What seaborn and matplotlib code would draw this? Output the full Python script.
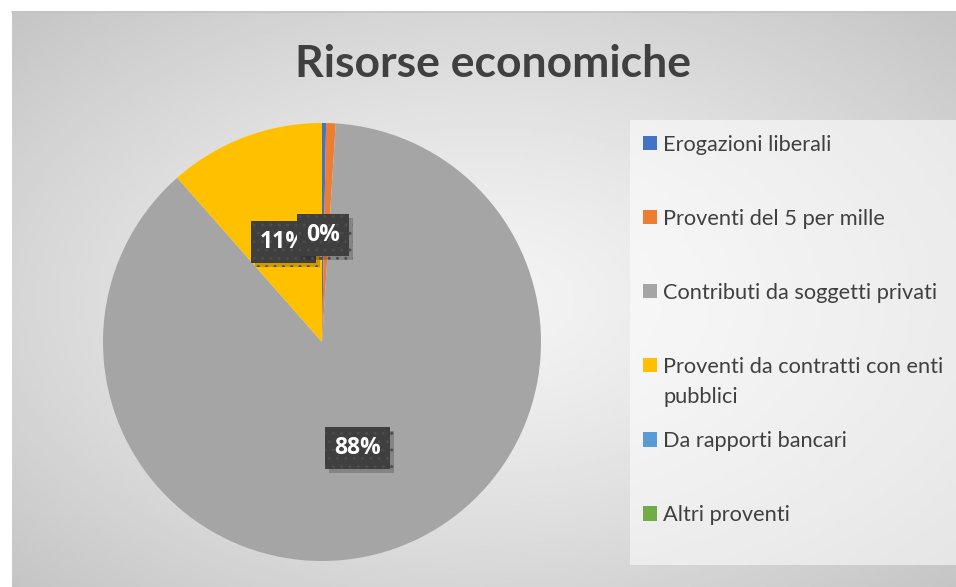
import numpy as np
import matplotlib
matplotlib.use('Agg')
import matplotlib.pyplot as plt
import matplotlib.patheffects as pe
from matplotlib.patches import Rectangle
import seaborn as sns

# dati (quote percentuali)
categorie = ['Erogazioni liberali', 'Proventi del 5 per mille', 'Contributi da soggetti privati',
             'Proventi da contratti con enti pubblici', 'Da rapporti bancari', 'Altri proventi']
valori = [0.3, 0.7, 87.5, 11.5, 0.0, 0.0]
etichette = ['0%', '', '88%', '11%', '', '']
colori = ['#4472C4', '#ED7D31', '#A5A5A5', '#FFC000', '#5B9BD5', '#70AD47']

sns.set_theme(style='white')
plt.rcParams['font.family'] = ['Lato', 'DejaVu Sans']

W, H = 956, 587
fig = plt.figure(figsize=(W / 100, H / 100), dpi=100)
fig.patch.set_facecolor('white')

# sfondo con sfumatura radiale
bg = fig.add_axes([12 / W, 0, (W - 12) / W, (H - 11) / H])
yy, xx = np.mgrid[0:200, 0:300]
r = np.hypot((xx - 150) / 150, (yy - 100) / 100) / np.sqrt(2)
bg.imshow(0.955 - 0.185 * r ** 1.3, cmap='gray', vmin=0, vmax=1, aspect='auto', interpolation='bilinear')
bg.axis('off')
fig.add_artist(plt.Line2D([12 / W, 1], [1 - 11.5 / H, 1 - 11.5 / H], color='#c4c4c4', lw=1.2))

# area legenda
fig.add_artist(Rectangle((630 / W, 1 - 565 / H), (W - 630) / W, 445 / H, transform=fig.transFigure,
                         facecolor='white', alpha=0.55, edgecolor='none'))

# torta
cx, cy, rad = 322, 342, 219
ax = fig.add_axes([(cx - rad) / W, (H - cy - rad) / H, 2 * rad / W, 2 * rad / H])
palette = sns.color_palette(colori)
wedges, _ = ax.pie(valori, colors=palette, startangle=90, counterclock=False, radius=1,
                   wedgeprops=dict(linewidth=0))
ax.set_xlim(-1, 1)
ax.set_ylim(-1, 1)
ax.axis('off')

for w, lab in reversed(list(zip(wedges, etichette))):
    if not lab:
        continue
    ang = np.deg2rad((w.theta1 + w.theta2) / 2)
    t = ax.text(0.5 * np.cos(ang), 0.5 * np.sin(ang) - 0.01, lab, color='white', fontsize=16.5,
                fontweight='bold', ha='center', va='center', family=['Open Sans', 'DejaVu Sans'],
                bbox=dict(boxstyle='square,pad=0.4', fc='#3f3f3f', ec='#4c4c4c', lw=0, hatch='..'))
    t.get_bbox_patch().set_path_effects([pe.withSimplePatchShadow(offset=(3, -3), shadow_rgbFace='black', alpha=0.2)])

# titolo
fig.text(493 / W, 1 - 77 / H, 'Risorse economiche', ha='center', va='baseline',
         fontsize=32, fontweight='bold', color='#404040')

# legenda
etich_leg = [c if c != 'Proventi da contratti con enti pubblici' else 'Proventi da contratti con enti'
             for c in categorie]
leg = fig.legend(wedges, etich_leg, loc='upper left', bbox_to_anchor=(634.5 / W, 1 - 126 / H),
                 frameon=False, fontsize=15.7, labelcolor='#404040', labelspacing=2.48,
                 handlelength=0.64, handleheight=0.64, handletextpad=0.28, borderaxespad=0)
quarta = leg.get_texts()[3]
fig.canvas.draw()
bb = quarta.get_window_extent()
fig.text(bb.x0 / W, (bb.y0 - 30) / H, 'pubblici', fontsize=15.7, color='#404040', ha='left', va='bottom')

fig.savefig('out.png', dpi=100)
